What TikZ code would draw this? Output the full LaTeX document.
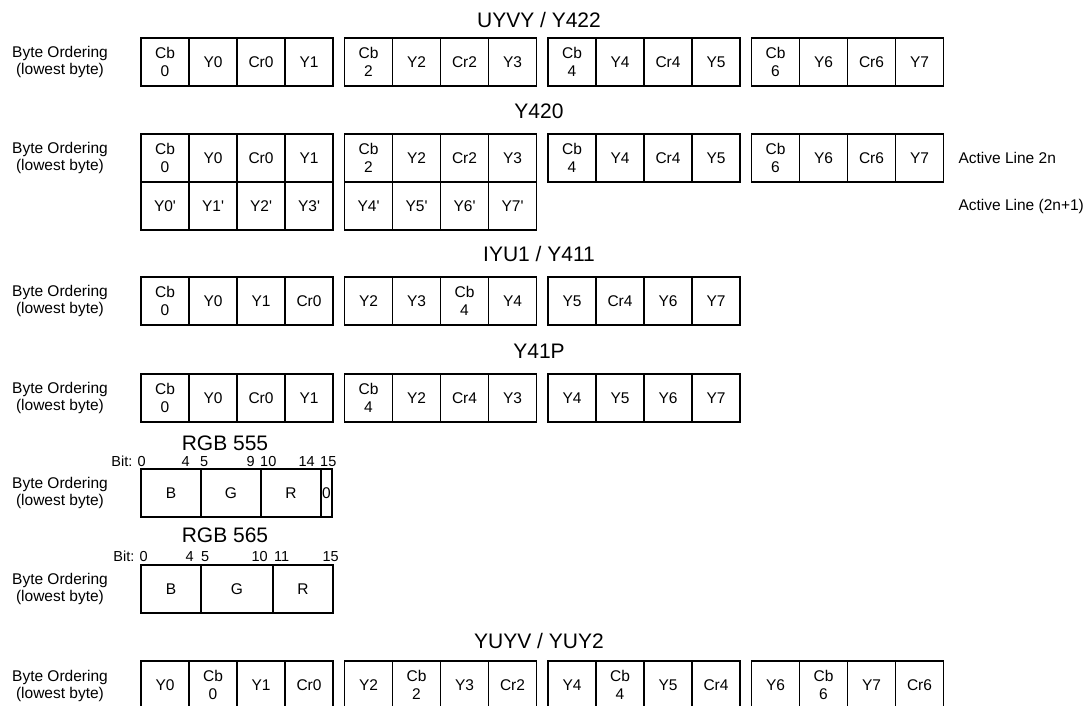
\documentclass[tikz,border=0pt]{standalone}
\usepackage{fontspec}
\setmainfont{Liberation Sans}
\usetikzlibrary{positioning}

\newcommand{\cellfont}{\fontsize{15.5}{17.5}\selectfont}
\newcommand{\headfont}{\fontsize{21}{24}\selectfont}
\newcommand{\bitfont}{\fontsize{14.5}{16}\selectfont}
\newcommand{\pr}{\textquotesingle}

\begin{document}
\begin{tikzpicture}[
  x=1pt, y=-1pt,
  cell/.style={draw, line width=1.5pt, inner sep=0pt, outer sep=0pt,
               minimum height=48pt, minimum width=48pt, anchor=north west,
               align=center, font=\cellfont},
  fmthead/.style={font=\headfont},
  side/.style={align=center, font=\cellfont},
  note/.style={anchor=west, font=\cellfont},
  bit/.style={font=\bitfont, inner sep=0pt}
]
  \useasboundingbox (0,0) rectangle (1089,705);
  \clip (0,0) rectangle (1089,705);

  % UYVY / Y422
  \node[fmthead] (uyvy) at (539,20) {UYVY / Y422};
  \node[side] (uyvy-lbl) at (60,62) {Byte Ordering\\(lowest byte)};
  \foreach \txt [count=\i from 0] in {Cb\\0,Y0,Cr0,Y1,Cb\\2,Y2,Cr2,Y3,Cb\\4,Y4,Cr4,Y5,Cb\\6,Y6,Cr6,Y7}
    \node[cell] (uyvy-\i) at ({141+203.5*floor(\i/4)+48*mod(\i,4)},38) {\txt};

  % Y420
  \node[fmthead] (y420) at (539,111) {Y420};
  \node[side] (y420-lbl) at (60,158) {Byte Ordering\\(lowest byte)};
  \foreach \txt [count=\i from 0] in {Cb\\0,Y0,Cr0,Y1,Cb\\2,Y2,Cr2,Y3,Cb\\4,Y4,Cr4,Y5,Cb\\6,Y6,Cr6,Y7}
    \node[cell] (y420a-\i) at ({141+203.5*floor(\i/4)+48*mod(\i,4)},134) {\txt};
  \foreach \txt [count=\i from 0] in {Y0\pr,Y1\pr,Y2\pr,Y3\pr,Y4\pr,Y5\pr,Y6\pr,Y7\pr}
    \node[cell] (y420b-\i) at ({141+203.5*floor(\i/4)+48*mod(\i,4)},182) {\txt};
  \node[note] (line-even) at (955,158) {Active Line 2n};
  \node[note] (line-odd) at (955,206) {Active Line (2n+1)};

  % IYU1 / Y411
  \node[fmthead] (iyu1) at (539,254) {IYU1 / Y411};
  \node[side] (iyu1-lbl) at (60,301) {Byte Ordering\\(lowest byte)};
  \foreach \txt [count=\i from 0] in {Cb\\0,Y0,Y1,Cr0,Y2,Y3,Cb\\4,Y4,Y5,Cr4,Y6,Y7}
    \node[cell] (iyu1-\i) at ({141+203.5*floor(\i/4)+48*mod(\i,4)},277) {\txt};

  % Y41P
  \node[fmthead] (y41p) at (539,351) {Y41P};
  \node[side] (y41p-lbl) at (60,398) {Byte Ordering\\(lowest byte)};
  \foreach \txt [count=\i from 0] in {Cb\\0,Y0,Cr0,Y1,Cb\\4,Y2,Cr4,Y3,Y4,Y5,Y6,Y7}
    \node[cell] (y41p-\i) at ({141+203.5*floor(\i/4)+48*mod(\i,4)},374) {\txt};

  % RGB 555
  \node[fmthead] (rgb555) at (225,443) {RGB 555};
  \node[side] (rgb555-lbl) at (60,493) {Byte Ordering\\(lowest byte)};
  \node[cell, minimum width=60pt] (rgb555-b) at (141,469) {B};
  \node[cell, minimum width=60pt, right=0pt of rgb555-b] (rgb555-g) {G};
  \node[cell, minimum width=60pt, right=0pt of rgb555-g] (rgb555-r) {R};
  \node[cell, minimum width=11pt, right=0pt of rgb555-r] (rgb555-x) {0};
  \node[bit, anchor=base east] (b555-0) at (146,466) {Bit: 0};
  \node[bit, anchor=base east] (b555-4) at (190,466) {4};
  \node[bit, anchor=base west] (b555-5) at (200,466) {5};
  \node[bit, anchor=base east] (b555-9) at (255,466) {9};
  \node[bit, anchor=base west] (b555-10) at (260,466) {10};
  \node[bit, anchor=base east] (b555-14) at (315,466) {14};
  \node[bit, anchor=base west] (b555-15) at (320,466) {15};

  % RGB 565
  \node[fmthead] (rgb565) at (225,535) {RGB 565};
  \node[side] (rgb565-lbl) at (60,589) {Byte Ordering\\(lowest byte)};
  \node[cell, minimum width=60pt] (rgb565-b) at (141,565) {B};
  \node[cell, minimum width=72pt, right=0pt of rgb565-b] (rgb565-g) {G};
  \node[cell, minimum width=60pt, right=0pt of rgb565-g] (rgb565-r) {R};
  \node[bit, anchor=base east] (b565-0) at (148,561) {Bit: 0};
  \node[bit, anchor=base east] (b565-4) at (194,561) {4};
  \node[bit, anchor=base west] (b565-5) at (201,561) {5};
  \node[bit, anchor=base east] (b565-10) at (268,561) {10};
  \node[bit, anchor=base west] (b565-11) at (274,561) {11};
  \node[bit, anchor=base east] (b565-15) at (339,561) {15};

  % YUYV / YUY2
  \node[fmthead] (yuyv) at (539,641) {YUYV / YUY2};
  \node[side] (yuyv-lbl) at (60,686) {Byte Ordering\\(lowest byte)};
  \foreach \txt [count=\i from 0] in {Y0,Cb\\0,Y1,Cr0,Y2,Cb\\2,Y3,Cr2,Y4,Cb\\4,Y5,Cr4,Y6,Cb\\6,Y7,Cr6}
    \node[cell] (yuyv-\i) at ({141+203.5*floor(\i/4)+48*mod(\i,4)},661) {\txt};
\end{tikzpicture}
\end{document}
